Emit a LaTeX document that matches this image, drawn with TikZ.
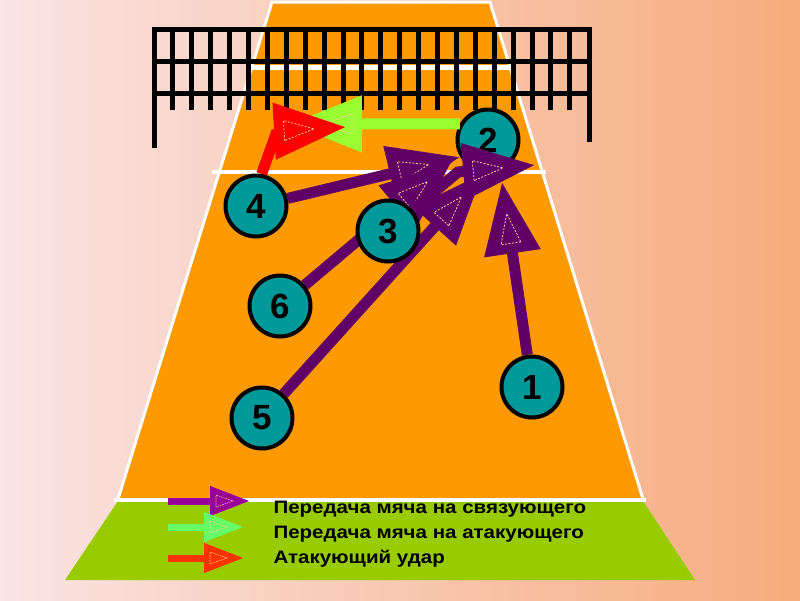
\documentclass[tikz,border=0pt]{standalone}
\usepackage{fontspec}
\setmainfont{Liberation Sans}
\newfontfamily\legfont[FakeStretch=1.14]{Liberation Sans}
\usetikzlibrary{arrows.meta,decorations.markings}
\pgfdeclarelayer{front}
\pgfsetlayers{main,front}

\definecolor{court}{RGB}{255,153,0}
\definecolor{freezone}{RGB}{153,204,0}
\definecolor{playercol}{RGB}{0,153,153}
\definecolor{setpass}{RGB}{96,0,102}
\definecolor{atkpass}{RGB}{153,255,51}
\definecolor{spike}{RGB}{255,0,0}
\definecolor{legpass}{RGB}{153,0,153}
\definecolor{legatk}{RGB}{102,255,102}
\definecolor{legspike}{RGB}{255,51,0}
\definecolor{bgleft}{RGB}{250,228,228}
\definecolor{bgright}{RGB}{246,172,124}
\definecolor{dashcol}{RGB}{255,200,160}

\tikzset{
  player/.style={circle, draw=black, line width=4pt, fill=playercol,
    minimum size=61pt, inner sep=0pt, font=\fontsize{35}{35}\selectfont\bfseries},
  bigarrow/.style={-{Triangle[length=72pt,width=54pt]}, line width=11pt,
    postaction={decorate, decoration={markings, mark=at position 1 with
      {\draw[-, line width=0.8pt, dash pattern=on 2pt off 1.5pt, draw=dashcol]
        (-62pt,-10pt) -- (-62pt,10pt) -- (-32pt,0pt) -- cycle;}}}},
  legarrow/.style={-{Triangle[length=40pt,width=28pt]}, line width=7pt,
    postaction={decorate, decoration={markings, mark=at position 1 with
      {\draw[-, line width=0.6pt, dash pattern=on 1.5pt off 1pt, draw=dashcol]
        (-34pt,-6pt) -- (-34pt,6pt) -- (-17pt,0pt) -- cycle;}}}},
  netline/.style={line width=5pt, draw=black},
  legtext/.style={anchor=base west, font=\legfont\fontsize{18}{20}\selectfont\bfseries}
}

\begin{document}
\begin{tikzpicture}[x=1pt, y=-1pt]
  % background
  \shade[left color=bgleft, right color=bgright] (0,0) rectangle (800,600);
  \useasboundingbox (0,0) rectangle (800,600);

  % court
  \fill[court] (272,2) -- (490,2) -- (643,499) -- (118,499) -- cycle;
  \fill[freezone] (118,501) -- (643,501) -- (695,580) -- (65,580) -- cycle;
  \draw[white, line width=3pt] (118,499) -- (272,2) -- (490,2) -- (643,499);
  \draw[white, line width=4pt] (114,500) -- (646,500);
  \draw[white, line width=4pt] (212,172) -- (546,172);
  \draw[white, line width=5pt] (252,67) -- (510,67);

  % net
  \foreach \y in {29,61,93}
    \draw[netline] (152,\y) -- (591,\y);
  \foreach \i in {1,...,22}
    \draw[netline] ({154+18.9*\i},29) -- ({154+18.9*\i},110);
  \draw[netline] (154,27) -- (154,148);
  \draw[netline] (589,27) -- (589,142);

  % setter
  \node[player] (p2) at (488,140) {2};

  \begin{pgfonlayer}{front}
    \node[player] (p1) at (532,387) {1};
    \node[player] (p3) at (388,231) {3};
    \node[player] (p4) at (256,206) {4};
    \node[player] (p5) at (262,418) {5};
    \node[player] (p6) at (280,306) {6};
  \end{pgfonlayer}

  \coordinate (t4) at (460,157);
  \coordinate (t6) at (452,161);
  \coordinate (t5) at (483,173);
  \coordinate (t1) at (502,182);
  \coordinate (b3) at (458,172);
  \coordinate (t3) at (535,165);
  \coordinate (tg) at (290,124);
  \coordinate (kb) at (277,131);
  \coordinate (tk) at (346,127);

  % attack pass and spike
  \draw[bigarrow, draw=atkpass] (p2.150) -- (tg);
  \draw[bigarrow, draw=spike] (p4.80) -- (kb) -- (tk);

  % passes to the setter
  \draw[bigarrow, draw=setpass] (p4) -- (t4);
  \draw[bigarrow, draw=setpass] (p6) -- (t6);
  \draw[bigarrow, draw=setpass] (p5) -- (t5);
  \draw[bigarrow, draw=setpass] (p1) -- (t1);
  \draw[bigarrow, draw=setpass] (p3) -- (b3) -- (t3);

  % legend
  \node[legtext] (leg1) at (270,513) {Передача мяча на связующего};
  \node[legtext] (leg2) at (270,538) {Передача мяча на атакующего};
  \node[legtext] (leg3) at (270,563) {Атакующий удар};
  \draw[legarrow, draw=legpass] (168,501) -- (250,501);
  \draw[legarrow, draw=legatk] (168,527) -- (244,527);
  \draw[legarrow, draw=legspike] (168,558) -- (244,558);
\end{tikzpicture}
\end{document}
